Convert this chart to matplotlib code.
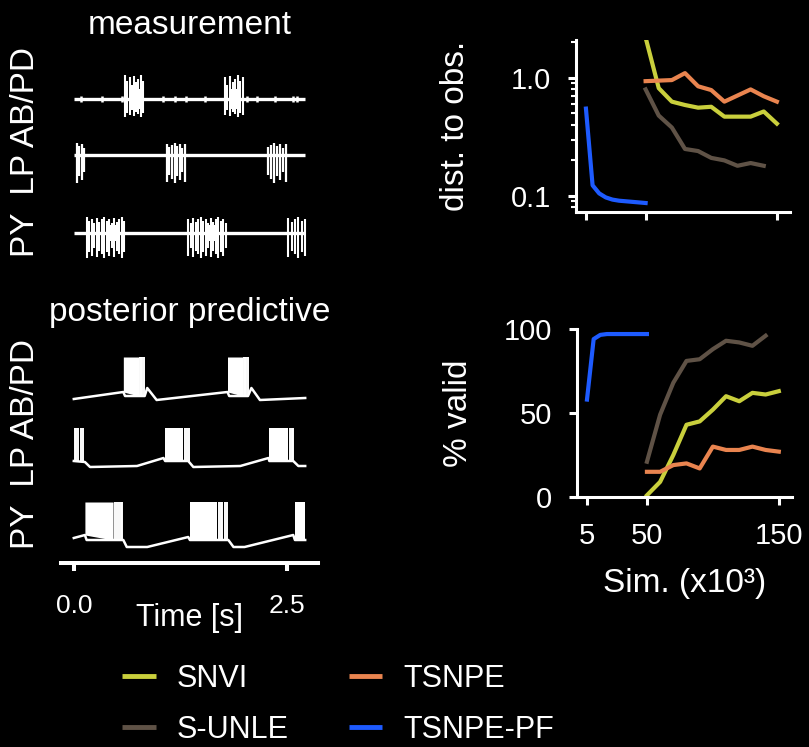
import numpy as np
import matplotlib
matplotlib.use('Agg')
from matplotlib import pyplot as plt
from matplotlib.lines import Line2D

plt.rcParams['font.family'] = ['Liberation Sans', 'DejaVu Sans']

# ---------------- right: summary curves ----------------
methods = ['SNVI', 'S-UNLE', 'TSNPE', 'TSNPE-PF']
colors = {'SNVI': '#c9cf3c', 'S-UNLE': '#5f5246', 'TSNPE': '#e9844f', 'TSNPE-PF': '#1e5bff'}

sims_snvi = [50, 60, 70, 80, 90, 100, 110, 120, 130, 140, 150]
sims_sunle = [50, 60, 70, 80, 90, 100, 110, 120, 130, 140]
sims_tsnpe = [50, 60, 70, 80, 90, 100, 110, 120, 130, 140, 150]
sims_pf = [5, 10, 15, 20, 25, 30, 35, 40, 45, 50]

dist_snvi = [2.2, 0.82, 0.63, 0.59, 0.56, 0.57, 0.47, 0.47, 0.47, 0.52, 0.41]
dist_sunle = [0.80, 0.48, 0.38, 0.25, 0.24, 0.21, 0.20, 0.18, 0.19, 0.18]
dist_tsnpe = [0.94, 0.95, 0.96, 1.10, 0.85, 0.79, 0.63, 0.71, 0.80, 0.70, 0.63]
dist_pf = [0.55, 0.123, 0.105, 0.097, 0.093, 0.091, 0.090, 0.089, 0.088, 0.087]

valid_snvi = [1, 9, 25, 43, 45, 52, 60, 57, 62, 61, 63]
valid_sunle = [21, 49, 68, 81, 82, 88, 93, 92, 90, 96]
valid_tsnpe = [15, 15, 19, 20, 17, 30, 28, 28, 30, 28, 27]
valid_pf = [58, 94, 96.5, 97, 97, 97, 97, 97, 97, 97]

sim_ticks = [5, 50, 150]

# ---------------- left: voltage traces ----------------
t_end = 2.71
# measurement: (burst start, burst end, number of spikes)
meas_abpd_bursts = [(0.60, 0.81, 9), (1.77, 1.98, 8)]
meas_abpd_core = [(0.66, 0.77), (1.82, 1.93)]
meas_abpd_blips = [0.09, 0.33, 0.56, 1.04, 1.19, 1.31, 1.54, 2.03, 2.15, 2.36, 2.57, 2.61]
meas_lp_bursts = [(0.035, 0.12, 4), (1.09, 1.30, 8), (2.27, 2.41, 5), (2.45, 2.49, 2)]
meas_py_bursts = [(0.15, 0.59, 16), (1.34, 1.78, 16), (2.51, 2.71, 6)]
meas_py_core = [(0.40, 0.53), (1.56, 1.70)]
spike_scale = [1.0, 0.75, 0.9, 0.6, 0.95, 0.7, 0.85]

# posterior predictive: membrane envelope, dense bursts, single spikes
pp_abpd_t = [0.0, 0.58, 0.60, 0.83, 0.86, 0.97, 1.80, 1.82, 2.04, 2.08, 2.18, 2.71]
pp_abpd_v = [1, 8, 4, 4, 12, 0, 8, 4, 4, 12, 0, 2]
pp_abpd_dense = [(0.58, 0.76), (1.80, 1.98)]
pp_abpd_single = [0.77, 0.79, 0.80, 0.82, 1.99, 2.01, 2.02, 2.04]

pp_lp_t = [0.0, 0.13, 0.19, 0.74, 1.05, 1.07, 1.34, 1.40, 1.95, 2.28, 2.29, 2.57, 2.63, 2.71]
pp_lp_v = [6, 5, 0, 1, 9, 6, 6, 0, 1, 9, 6, 6, 1, 1]
pp_lp_dense = [(1.07, 1.28), (2.29, 2.51)]
pp_lp_single = [0.01, 0.03, 0.05, 0.08, 0.11, 1.30, 1.33, 1.35, 2.53, 2.56, 2.57]

pp_py_t = [0.0, 0.13, 0.15, 0.58, 0.62, 0.86, 1.34, 1.36, 1.81, 1.87, 2.00, 2.57, 2.59, 2.71]
pp_py_v = [9, 12, 7, 7, 0, 0, 10, 7, 7, 0, 0, 12, 7, 7]
pp_py_dense = [(0.13, 0.46), (1.36, 1.68), (2.59, 2.71)]
pp_py_single = [0.48, 0.51, 0.53, 0.55, 0.57, 1.70, 1.72, 1.74, 1.77, 1.80]

W = 'white'
K = 2.2  # width of the 50-150 part relative to 5-50


def fwd(x):
    x = np.asarray(x, float)
    return np.where(x <= 50, (x - 5) / 45., 1 + (x - 50) / 100. * K)


def inv(u):
    u = np.asarray(u, float)
    return np.where(u <= 1, 5 + 45. * u, 50 + (u - 1) * 100. / K)


def px_axes(l, t, r, b):
    return fig.add_axes([l / 809, 1 - b / 747, (r - l) / 809, (b - t) / 747])


def style_right(ax):
    ax.set_facecolor('black')
    for s in ['top', 'right']:
        ax.spines[s].set_visible(False)
    for s in ['left', 'bottom']:
        ax.spines[s].set_color(W)
        ax.spines[s].set_linewidth(2.2)
    ax.tick_params(which='major', length=6, width=2.2, colors=W, labelsize=21, pad=12)
    ax.tick_params(which='minor', length=3.5, width=1.5, colors=W)
    ax.set_xscale('function', functions=(fwd, inv))
    ax.set_xlim(-2.5, 160)
    ax.set_xticks(sim_ticks)


def draw_meas(ax, base, bursts, up, down, lw=1.5):
    ax.hlines(base, 0, t_end, color=W, lw=2.4)
    i = 0
    for start, end, n in bursts:
        for t in np.linspace(start, end, n):
            m = spike_scale[i % len(spike_scale)]
            ax.vlines(t, base - down * m, base + up * m, color=W, lw=lw)
            i += 1


def draw_pp(ax, base, env_t, env_v, dense, single, peak):
    env_t = np.asarray(env_t)
    env_v = np.asarray(env_v) + base
    ax.plot(env_t, env_v, color=W, lw=1.8, solid_joinstyle='round')
    for start, end in dense:
        ax.fill_between([start, end], np.interp([start, end], env_t, env_v),
                        base + peak, color=W, lw=0)
    ax.vlines(single, np.interp(single, env_t, env_v), base + peak, color=W, lw=1.4)


fig = plt.figure(figsize=(8.09, 7.47), dpi=100)
fig.patch.set_facecolor('black')

# ---- measurement ----
ax_m = px_axes(61, 55, 318, 265)
ax_m.set_facecolor('black')
ax_m.set_xlim(-0.15, 2.86)
ax_m.set_ylim(0, 210)
ax_m.axis('off')
ax_m.set_title('measurement', fontsize=24, color=W, pad=15)
draw_meas(ax_m, 166, meas_abpd_bursts, 24, 18)
for a, b in meas_abpd_core:
    ax_m.fill_between([a, b], 166 - 10, 166 + 10, color=W, lw=0)
ax_m.vlines(meas_abpd_blips, 166 - 3, 166 + 3, color=W, lw=1.8)
draw_meas(ax_m, 110, meas_lp_bursts, 12, 28, lw=1.6)
draw_meas(ax_m, 32, meas_py_bursts, 16, 25)
for a, b in meas_py_core:
    ax_m.fill_between([a, b], 32 - 8, 32 + 8, color=W, lw=0)

# ---- posterior predictive ----
ax_p = px_axes(61, 340, 318, 563)
ax_p.set_facecolor('black')
ax_p.set_xlim(-0.15, 2.86)
ax_p.set_ylim(0, 223)
for s in ['top', 'right', 'left']:
    ax_p.spines[s].set_visible(False)
ax_p.spines['bottom'].set_color(W)
ax_p.spines['bottom'].set_linewidth(2.9)
ax_p.set_yticks([])
ax_p.set_xticks([0, 2.5])
ax_p.set_xticklabels(['0.0', '2.5'])
ax_p.tick_params(axis='x', length=6, width=2.9, colors=W, labelsize=19, pad=16)
ax_p.set_xlabel('Time [s]', fontsize=22, color=W)
ax_p.xaxis.set_label_coords(0.5, -0.18)
ax_p.set_title('posterior predictive', fontsize=24, color=W, pad=14)
draw_pp(ax_p, 163, pp_abpd_t, pp_abpd_v, pp_abpd_dense, pp_abpd_single, 43)
draw_pp(ax_p, 96, pp_lp_t, pp_lp_v, pp_lp_dense, pp_lp_single, 39)
draw_pp(ax_p, 16, pp_py_t, pp_py_v, pp_py_dense, pp_py_single, 45)

for yc in [152, 444]:
    fig.text(26 / 809, 1 - yc / 747, 'PY  LP AB/PD', rotation=90, ha='center',
             va='center', fontsize=24, color=W)

# ---- dist. to obs. ----
ax_d = px_axes(576, 40, 790, 212)
style_right(ax_d)
ax_d.set_yscale('log')
ax_d.set_ylim(0.073, 2.1)
ax_d.set_yticks([0.1, 1.0])
ax_d.set_yticklabels(['0.1', '1.0'])
ax_d.tick_params(axis='x', labelbottom=False)
for x, y, m in [(sims_snvi, dist_snvi, 'SNVI'), (sims_sunle, dist_sunle, 'S-UNLE'),
                (sims_tsnpe, dist_tsnpe, 'TSNPE'), (sims_pf, dist_pf, 'TSNPE-PF')]:
    ax_d.plot(x, y, color=colors[m], lw=3.0, solid_joinstyle='round')
ax_d.set_ylabel('dist. to obs.', fontsize=24, color=W)
ax_d.yaxis.set_label_coords(-0.49, 0.5)

# ---- % valid ----
ax_v = px_axes(577, 329, 792, 497)
style_right(ax_v)
ax_v.set_ylim(0, 100)
ax_v.set_yticks([0, 50, 100])
for x, y, m in [(sims_snvi, valid_snvi, 'SNVI'), (sims_sunle, valid_sunle, 'S-UNLE'),
                (sims_tsnpe, valid_tsnpe, 'TSNPE'), (sims_pf, valid_pf, 'TSNPE-PF')]:
    ax_v.plot(x, y, color=colors[m], lw=3.0, solid_joinstyle='round', clip_on=False)
ax_v.set_ylabel('% valid', fontsize=24, color=W)
ax_v.yaxis.set_label_coords(-0.48, 0.5)
ax_v.set_xlabel('Sim. (x10³)', fontsize=24, color=W)
ax_v.xaxis.set_label_coords(0.5, -0.42)

# ---- legend ----
handles = [Line2D([], [], color=colors[m], lw=3.5, solid_capstyle='butt') for m in methods]
leg = fig.legend(handles, methods, ncol=2, loc='center', bbox_to_anchor=(0.418, 0.057),
                 frameon=False, fontsize=22, handlelength=1.1, handletextpad=0.7,
                 columnspacing=1.95, labelspacing=0.7)
for txt in leg.get_texts():
    txt.set_color(W)

fig.savefig('out.png', dpi=100, facecolor='black')
